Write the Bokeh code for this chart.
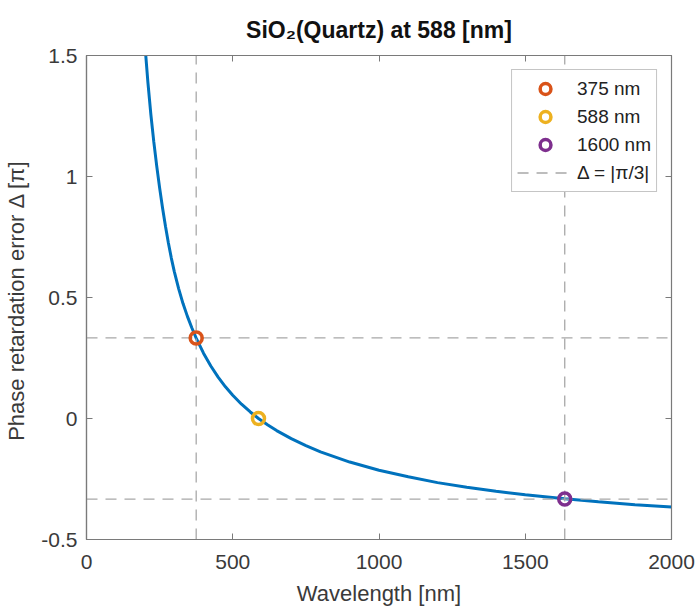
from bokeh.plotting import figure
from bokeh.models import (Range1d, FixedTicker, CustomJSTickFormatter, LinearAxis,
                          Legend, LegendItem)
from bokeh.embed import file_html
from bokeh.resources import INLINE

# ---- data ----
wavelength = [200, 210, 220, 230, 240, 250, 260, 270, 280, 290, 300, 315, 330, 345,
              360, 375, 400, 425, 450, 475, 500, 530, 560, 588, 620, 650, 700, 750,
              800, 900, 1000, 1100, 1200, 1300, 1400, 1500, 1635, 1750, 1875, 2000]
retard_err = [1.540, 1.388, 1.257, 1.144, 1.044, 0.953, 0.870, 0.794, 0.725, 0.663,
              0.608, 0.537, 0.475, 0.422, 0.375, 0.332, 0.270, 0.217, 0.171, 0.131,
              0.096, 0.059, 0.027, 0.0, -0.027, -0.050, -0.083, -0.112, -0.138,
              -0.180, -0.214, -0.241, -0.265, -0.284, -0.301, -0.315, -0.332,
              -0.344, -0.356, -0.366]

marker_wl = [375, 588, 1635]
marker_err = [0.333, 0.0, -0.333]
marker_labels = ["375 nm", "588 nm", "1600 nm"]
marker_colors = ["#D95319", "#EDB120", "#7E2F8E"]
vline_wl = [375, 1635]

delta_level = 1.0 / 3.0
delta_label = "Δ = |π/3|"

x_lim = [0, 2000]
y_lim = [-0.5, 1.5]
x_ticks = [0, 500, 1000, 1500, 2000]
y_ticks = [-0.5, 0, 0.5, 1, 1.5]

FONT = "Liberation Sans"
AX_COL = "#7a7a7a"
TXT_COL = "#3a3a3a"

p = figure(width=698, height=612, output_backend="svg", toolbar_location=None,
           x_range=Range1d(*x_lim), y_range=Range1d(*y_lim),
           min_border_left=86, min_border_right=27, min_border_top=55,
           min_border_bottom=73)

p.title.text = "SiO₂(Quartz) at 588 [nm]"
p.title.align = "center"
p.title.text_font = FONT
p.title.text_font_size = "23px"
p.title.text_font_style = "bold"
p.title.text_color = "#111111"
p.title.standoff = 25

p.xgrid.visible = False
p.ygrid.visible = False
p.outline_line_color = AX_COL
p.outline_line_width = 1.2

p.xaxis.ticker = FixedTicker(ticks=x_ticks)
p.yaxis.ticker = FixedTicker(ticks=y_ticks)
p.yaxis.formatter = CustomJSTickFormatter(code="return tick.toString();")
p.xaxis.axis_label = "Wavelength [nm]"
p.yaxis.axis_label = "Phase retardation error  Δ [π]"

for ax in p.axis:
    ax.axis_line_color = AX_COL
    ax.axis_line_width = 1.2
    ax.major_tick_line_color = AX_COL
    ax.major_tick_in = 6
    ax.major_tick_out = 0
    ax.minor_tick_line_color = None
    ax.major_label_text_font = FONT
    ax.major_label_text_font_size = "21px"
    ax.major_label_text_color = TXT_COL
    ax.axis_label_text_font = FONT
    ax.axis_label_text_font_size = "22px"
    ax.axis_label_text_font_style = "normal"
    ax.axis_label_text_color = TXT_COL
p.xaxis.major_label_standoff = 15
p.yaxis.major_label_standoff = 9
p.xaxis.axis_label_standoff = 9
p.yaxis.axis_label_standoff = 9

# box ticks on top and right (MATLAB "box on"); their labels are not drawn
for loc, ticks in (("above", x_ticks), ("right", y_ticks)):
    ax = LinearAxis(ticker=FixedTicker(ticks=ticks), major_label_text_font_size="2px",
                    major_label_text_color=None,
                    axis_line_color=AX_COL, major_tick_line_color=AX_COL,
                    major_tick_in=6, major_tick_out=0, minor_tick_line_color=None,
                    major_label_standoff=0)
    p.add_layout(ax, loc)

# curve
p.line(wavelength, retard_err, line_color="#0072BD", line_width=3)

# dashed reference lines
dash_kw = dict(line_color="#a8a8a8", line_width=1.3, line_dash="11 8")
h_lines = []
for lvl in (delta_level, -delta_level):
    h_lines.append(p.line(x_lim, [lvl, lvl], **dash_kw))
for wl in vline_wl:
    p.line([wl, wl], y_lim, **dash_kw)

# markers
items = []
for wl, er, lbl, col in zip(marker_wl, marker_err, marker_labels, marker_colors):
    r = p.scatter([wl], [er], marker="circle", size=12, line_color=col,
                  line_width=3.5, fill_color=None)
    items.append(LegendItem(label=lbl, renderers=[r]))
items.append(LegendItem(label=delta_label, renderers=[h_lines[0]]))

legend = Legend(items=items, location="top_right", margin=14, padding=5, spacing=1,
                glyph_width=56, glyph_height=27, label_standoff=4,
                label_text_font=FONT, label_text_font_size="19px",
                label_text_color="#222222", border_line_color="#8c8c8c",
                border_line_width=1.2, background_fill_color="white",
                background_fill_alpha=1.0)
p.add_layout(legend)

open("out.html", "w").write(file_html(p, INLINE))
